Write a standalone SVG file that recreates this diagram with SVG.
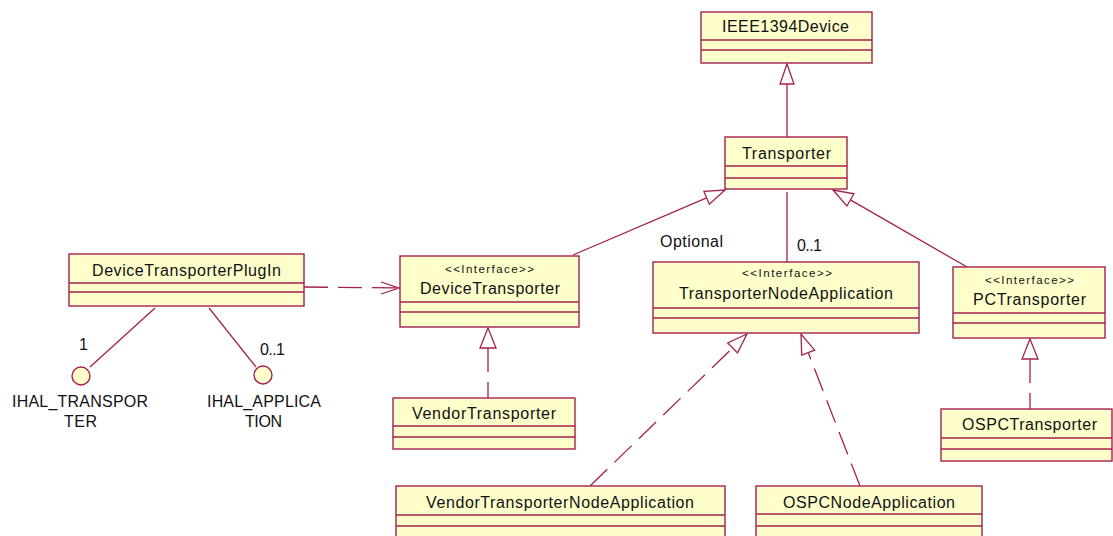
<svg xmlns="http://www.w3.org/2000/svg" width="1113" height="536" viewBox="0 0 1113 536">
  <style>
    .box { fill: #FFFFCC; stroke: #A3204F; stroke-width: 1.4; }
    .div { stroke: #A3204F; stroke-width: 1.4; }
    .name { font-family: "Liberation Sans", Arial, sans-serif; font-size: 16px; fill: #111; }
    .stereo { font-family: "Liberation Sans", Arial, sans-serif; font-size: 11.5px; fill: #111; }
    .lbl { font-family: "Liberation Sans", Arial, sans-serif; font-size: 16px; fill: #111; }
    .ln { stroke: #A3204F; stroke-width: 1.3; fill: none; }
    .dash { stroke: #A3204F; stroke-width: 1.3; fill: none; stroke-dasharray: 24 10; }
    .tri { fill: #FFFFFF; stroke: #A3204F; stroke-width: 1.3; }
    .iface { fill: #FFFFCC; stroke: #A3204F; stroke-width: 1.4; }
  </style>

  <!-- connectors -->
  <g id="connectors">
    <!-- Transporter generalizes IEEE1394Device -->
    <line class="ln" x1="787" y1="84" x2="787" y2="137"/>
    <polygon class="tri" points="787,64 780,84 794,84"/>
    <!-- DeviceTransporter generalizes Transporter -->
    <line class="ln" x1="573" y1="255" x2="706.6" y2="197.8"/>
    <polygon class="tri" points="725,190 709.3,204.2 703.9,191.4"/>
    <!-- PCTransporter generalizes Transporter -->
    <line class="ln" x1="967" y1="267" x2="850.4" y2="199.9"/>
    <polygon class="tri" points="833,190 846.9,206 853.9,193.8"/>
    <!-- Transporter association to TransporterNodeApplication -->
    <line class="ln" x1="787" y1="192" x2="787" y2="262"/>
    <!-- PlugIn dependency on DeviceTransporter -->
    <line class="ln" x1="304" y1="287" x2="399" y2="288" stroke-dasharray="24 10"/>
    <polyline class="ln" points="381,282 399,288 381,294"/>
    <!-- PlugIn to its provided interfaces -->
    <line class="ln" x1="155" y1="308" x2="90" y2="367"/>
    <line class="ln" x1="209" y1="308" x2="256" y2="367"/>
    <!-- VendorTransporter realizes DeviceTransporter -->
    <line class="dash" x1="488" y1="348" x2="488" y2="398" stroke-dasharray="18 10"/>
    <polygon class="tri" points="488,328 480,348 496,348"/>
    <!-- OSPCTransporter realizes PCTransporter -->
    <line class="dash" x1="1030" y1="359" x2="1030" y2="409" stroke-dasharray="16 9"/>
    <polygon class="tri" points="1030,339 1022,359 1038,359"/>
    <!-- VendorTransporterNodeApplication realizes TransporterNodeApplication -->
    <line class="dash" x1="590" y1="486" x2="732.6" y2="347.9"/>
    <polygon class="tri" points="747,334 737.5,352.9 727.7,342.9"/>
    <!-- OSPCNodeApplication realizes TransporterNodeApplication -->
    <line class="dash" x1="860" y1="486" x2="808.2" y2="352.6"/>
    <polygon class="tri" points="801,334 801.7,355.1 814.7,350.1"/>
  </g>

  <!-- connector labels -->
  <g id="labels">
    <text class="lbl" x="660" y="247" textLength="63">Optional</text>
    <text class="lbl" x="797" y="251" textLength="25">0..1</text>
    <text class="lbl" x="79" y="350" textLength="8">1</text>
    <text class="lbl" x="260" y="355" textLength="25">0..1</text>
  </g>

  <g id="IEEE1394Device">
    <rect class="box" x="701" y="12" width="171" height="51"/>
    <line class="div" x1="701" y1="40" x2="872" y2="40"/>
    <line class="div" x1="701" y1="50" x2="872" y2="50"/>
    <text class="name" x="722" y="32" textLength="127">IEEE1394Device</text>
  </g>

  <g id="Transporter">
    <rect class="box" x="725" y="137" width="122" height="52"/>
    <line class="div" x1="725" y1="166" x2="847" y2="166"/>
    <line class="div" x1="725" y1="178" x2="847" y2="178"/>
    <text class="name" x="742" y="159" textLength="89">Transporter</text>
  </g>

  <g id="DeviceTransporterPlugIn">
    <rect class="box" x="69" y="254" width="235" height="52"/>
    <line class="div" x1="69" y1="283" x2="304" y2="283"/>
    <line class="div" x1="69" y1="292" x2="304" y2="292"/>
    <text class="name" x="92" y="276" textLength="189">DeviceTransporterPlugIn</text>
  </g>

  <g id="IHAL_TRANSPORTER">
    <circle class="iface" cx="81" cy="376" r="9"/>
    <text class="lbl" x="12" y="407" textLength="136">IHAL_TRANSPOR</text>
    <text class="lbl" x="64" y="427" textLength="33">TER</text>
  </g>

  <g id="IHAL_APPLICATION">
    <circle class="iface" cx="263" cy="375" r="9"/>
    <text class="lbl" x="207" y="407" textLength="114">IHAL_APPLICA</text>
    <text class="lbl" x="245" y="427" textLength="37">TION</text>
  </g>

  <g id="DeviceTransporter">
    <rect class="box" x="400" y="256" width="179" height="71"/>
    <line class="div" x1="400" y1="302" x2="579" y2="302"/>
    <line class="div" x1="400" y1="312" x2="579" y2="312"/>
    <text class="stereo" x="445" y="273" textLength="89">&lt;&lt;Interface&gt;&gt;</text>
    <text class="name" x="420" y="294" textLength="140">DeviceTransporter</text>
  </g>

  <g id="TransporterNodeApplication">
    <rect class="box" x="653" y="262" width="266" height="71"/>
    <line class="div" x1="653" y1="308" x2="919" y2="308"/>
    <line class="div" x1="653" y1="318" x2="919" y2="318"/>
    <text class="stereo" x="742" y="277" textLength="90">&lt;&lt;Interface&gt;&gt;</text>
    <text class="name" x="679" y="299" textLength="214">TransporterNodeApplication</text>
  </g>

  <g id="PCTransporter">
    <rect class="box" x="953" y="267" width="152" height="71"/>
    <line class="div" x1="953" y1="313" x2="1105" y2="313"/>
    <line class="div" x1="953" y1="323" x2="1105" y2="323"/>
    <text class="stereo" x="985" y="284" textLength="89">&lt;&lt;Interface&gt;&gt;</text>
    <text class="name" x="973" y="305" textLength="113">PCTransporter</text>
  </g>

  <g id="VendorTransporter">
    <rect class="box" x="393" y="398" width="182" height="51"/>
    <line class="div" x1="393" y1="426" x2="575" y2="426"/>
    <line class="div" x1="393" y1="437" x2="575" y2="437"/>
    <text class="name" x="412" y="419" textLength="144">VendorTransporter</text>
  </g>

  <g id="OSPCTransporter">
    <rect class="box" x="941" y="409" width="171" height="52"/>
    <line class="div" x1="941" y1="438" x2="1112" y2="438"/>
    <line class="div" x1="941" y1="449" x2="1112" y2="449"/>
    <text class="name" x="962" y="430" textLength="135">OSPCTransporter</text>
  </g>

  <g id="VendorTransporterNodeApplication">
    <rect class="box" x="396" y="486" width="329" height="60"/>
    <line class="div" x1="396" y1="515" x2="725" y2="515"/>
    <line class="div" x1="396" y1="526" x2="725" y2="526"/>
    <text class="name" x="426" y="508" textLength="268">VendorTransporterNodeApplication</text>
  </g>

  <g id="OSPCNodeApplication">
    <rect class="box" x="756" y="486" width="226" height="60"/>
    <line class="div" x1="756" y1="514" x2="982" y2="514"/>
    <line class="div" x1="756" y1="526" x2="982" y2="526"/>
    <text class="name" x="783" y="508" textLength="172">OSPCNodeApplication</text>
  </g>
</svg>
